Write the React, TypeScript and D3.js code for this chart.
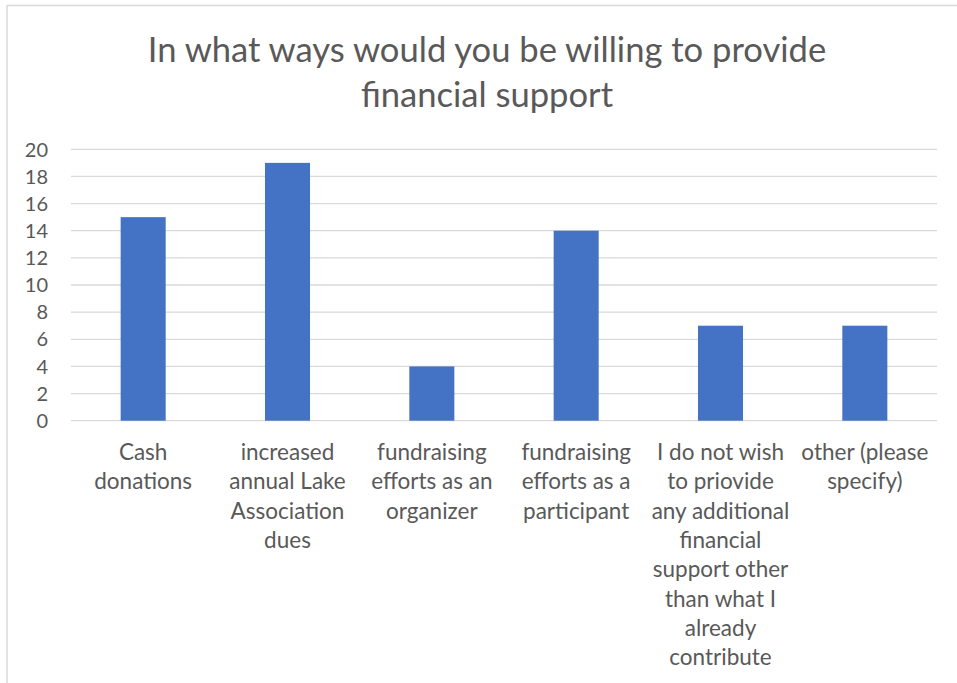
import React from "react";
import * as d3 from "d3";

const titleLines = ["In what ways would you be willing to provide", "financial support"];
const categoryLines: string[][] = [
  ["Cash", "donations"],
  ["increased", "annual Lake", "Association", "dues"],
  ["fundraising", "efforts as an", "organizer"],
  ["fundraising", "efforts as a", "participant"],
  ["I do not wish", "to priovide", "any additional", "financial", "support other", "than what I", "already", "contribute"],
  ["other (please", "specify)"],
];
const categories = categoryLines.map((l) => l.join(" "));
const values = [15, 19, 4, 14, 7, 7];
const yTicks = [0, 2, 4, 6, 8, 10, 12, 14, 16, 18, 20];

const W = 957;
const H = 683;
const FONT = "Lato, 'Open Sans', sans-serif";
const TEXT = "#595959";

export default function App() {
  const x = d3.scaleBand<string>().domain(categories).range([71, 937]).paddingInner(0.688).paddingOuter(0.344);
  const y = d3.scaleLinear().domain([0, 20]).range([420.7, 149.3]);

  return (
    <svg width={W} height={H} style={{ position: "absolute", left: 0, top: 0, background: "#fff" }} fontFamily={FONT}>
      <rect x={0} y={0} width={W} height={H} fill="#fff" />
      <line x1={7} x2={W} y1={5.5} y2={5.5} stroke="#d9d9d9" strokeWidth={1.5} />
      <line x1={7} x2={7} y1={5} y2={H} stroke="#d9d9d9" strokeWidth={1.5} />
      {titleLines.map((t, i) => (
        <text key={i} x={487} y={62 + i * 45} textAnchor="middle" fontSize={34.6} fill={TEXT}>
          {t}
        </text>
      ))}
      {yTicks.map((t) => (
        <g key={t}>
          <line x1={71} x2={937} y1={y(t)} y2={y(t)} stroke="#d9d9d9" strokeWidth={1.3} />
          <text x={48} y={y(t)} dy="0.36em" textAnchor="end" fontSize={20} fill={TEXT}>
            {t}
          </text>
        </g>
      ))}
      {categories.map((c, i) => (
        <rect key={c} x={x(c)} y={y(values[i])} width={x.bandwidth()} height={y(0) - y(values[i])} fill="#4472c4" />
      ))}
      {categories.map((c, i) => (
        <text key={c} textAnchor="middle" fontSize={22.5} fill={TEXT}>
          {categoryLines[i].map((l, j) => (
            <tspan key={j} x={(x(c) as number) + x.bandwidth() / 2} y={460 + j * 29.3}>
              {l}
            </tspan>
          ))}
        </text>
      ))}
    </svg>
  );
}
